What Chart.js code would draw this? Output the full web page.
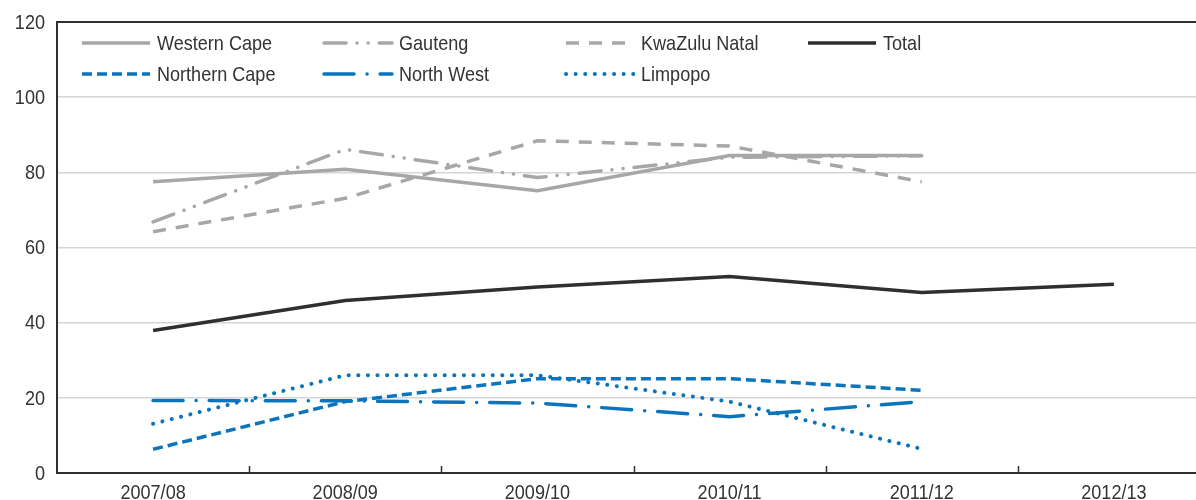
<!DOCTYPE html>
<html>
<head>
<meta charset="utf-8">
<script src="https://cdn.jsdelivr.net/npm/chart.js@4.4.0/dist/chart.umd.min.js"></script>
<style>
  html, body { margin: 0; padding: 0; background: #fff; overflow: hidden; }
  #wrap { position: absolute; left: 0; top: 0; width: 1212px; height: 500px; }
</style>
</head>
<body>
<div id="wrap"><canvas id="grafico" width="1212" height="500"></canvas></div>
<script>
const years = ['2007/08', '2008/09', '2009/10', '2010/11', '2011/12', '2012/13'];

const westernCape = [77.5, 80.8, 75.1, 84.5, 84.5, null];
const gauteng = [66.8, 86.1, 78.6, 84.0, 84.4, null];
const kwaZuluNatal = [64.2, 73.1, 88.4, 87.0, 77.5, null];
const total = [37.9, 45.9, 49.5, 52.3, 48.0, 50.2];
const northernCape = [6.3, 19.0, 25.1, 25.1, 22.0, null];
const northWest = [19.3, 19.2, 18.6, 15.0, 19.0, null];
const limpopo = [13.1, 26.0, 26.0, 19.0, 6.4, null];

const yTicks = [0, 20, 40, 60, 80, 100, 120];

const GRIS = '#a7a7a9';
const AZUL = '#0a74bd';
const OSCURO = '#2f2f2f';
const TEXTO = '#333';
const FUENTE = '"Liberation Sans", Arial, sans-serif';
const ESTRECHO = 0.86; // compresión horizontal del texto

function serie(label, data, color, dash, cap, width) {
    return {
        label: label,
        data: data,
        borderColor: color,
        backgroundColor: color,
        borderWidth: width || 3.5,
        borderDash: dash,
        borderCapStyle: cap || 'butt',
        pointRadius: 0,
        pointHoverRadius: 0,
        tension: 0,
        fill: false,
        spanGaps: false
    };
}

function textoEstrecho(ctx, txt, x, y, align, size) {
    ctx.save();
    ctx.translate(x, y);
    ctx.scale(ESTRECHO, 1);
    ctx.font = size + 'px ' + FUENTE;
    ctx.fillStyle = TEXTO;
    ctx.textAlign = align;
    ctx.textBaseline = 'middle';
    ctx.fillText(txt, 0, 0);
    ctx.restore();
}

// leyenda dentro del área del gráfico, 2 filas x 4 columnas
const leyendaInterior = {
    id: 'leyendaInterior',
    afterDraw(chart) {
        const ctx = chart.ctx;
        const area = chart.chartArea;
        const cols = 4;
        chart.data.datasets.forEach((ds, i) => {
            const col = i % cols;
            const fila = Math.floor(i / cols);
            const x0 = area.left + 25 + col * 242;
            const y0 = area.top + 21 + fila * 31;
            ctx.save();
            ctx.strokeStyle = ds.borderColor;
            ctx.lineWidth = ds.borderWidth;
            ctx.lineCap = ds.borderCapStyle;
            ctx.setLineDash(ds.borderDash || []);
            ctx.beginPath();
            ctx.moveTo(x0, y0);
            ctx.lineTo(x0 + 68, y0);
            ctx.stroke();
            ctx.restore();
            textoEstrecho(ctx, ds.label, x0 + 75, y0 + 1, 'left', 21);
        });
    }
};

// etiquetas de los ejes y marcas del eje x hacia dentro
const ejes = {
    id: 'ejes',
    afterDraw(chart) {
        const sx = chart.scales.x;
        const sy = chart.scales.y;
        const ctx = chart.ctx;
        const area = chart.chartArea;
        ctx.save();
        ctx.strokeStyle = OSCURO;
        ctx.lineWidth = 1.5;
        for (let i = 0; i < years.length; i++) {
            const x = Math.round(sx.getPixelForValue(i + 0.5)) + 0.5;
            ctx.beginPath();
            ctx.moveTo(x, area.bottom);
            ctx.lineTo(x, area.bottom - 7);
            ctx.stroke();
        }
        ctx.restore();
        sx.ticks.forEach((t, i) => {
            textoEstrecho(ctx, sx.getLabelForValue(t.value), sx.getPixelForTick(i), area.bottom + 20, 'center', 21);
        });
        sy.ticks.forEach((t, i) => {
            textoEstrecho(ctx, String(t.value), area.left - 12, sy.getPixelForTick(i) + 1, 'right', 21);
        });
    }
};

new Chart(document.getElementById('grafico').getContext('2d'), {
    type: 'line',
    data: {
        labels: years,
        datasets: [
            serie('Western Cape', westernCape, GRIS, []),
            serie('Gauteng', gauteng, GRIS, [22, 11, 0.1, 11, 0.1, 11], 'round'),
            serie('KwaZulu Natal', kwaZuluNatal, GRIS, [13, 10]),
            serie('Total', total, OSCURO, []),
            serie('Northern Cape', northernCape, AZUL, [10, 5]),
            serie('North West', northWest, AZUL, [30, 13, 0.1, 13], 'round'),
            serie('Limpopo', limpopo, AZUL, [0.1, 9.5], 'round', 4)
        ]
    },
    options: {
        responsive: false,
        animation: false,
        devicePixelRatio: 1,
        layout: { padding: { top: 22, left: 0, right: 2, bottom: 0 } },
        plugins: {
            legend: { display: false },
            tooltip: { enabled: false }
        },
        scales: {
            x: {
                offset: true,
                grid: { display: false, drawTicks: false },
                border: { display: true, color: OSCURO, width: 2 },
                ticks: { display: false },
                afterFit: s => { s.height = 27; }
            },
            y: {
                min: 0,
                max: 120,
                afterBuildTicks: s => { s.ticks = yTicks.map(v => ({ value: v })); },
                grid: {
                    drawTicks: false,
                    color: c => c.tick.value === 120 ? OSCURO : '#d6d6d6',
                    lineWidth: c => c.tick.value === 120 ? 2 : 1.5
                },
                border: { display: true, color: OSCURO, width: 2 },
                ticks: { display: false },
                afterFit: s => { s.width = 57; }
            }
        }
    },
    plugins: [leyendaInterior, ejes]
});
</script>
</body>
</html>
